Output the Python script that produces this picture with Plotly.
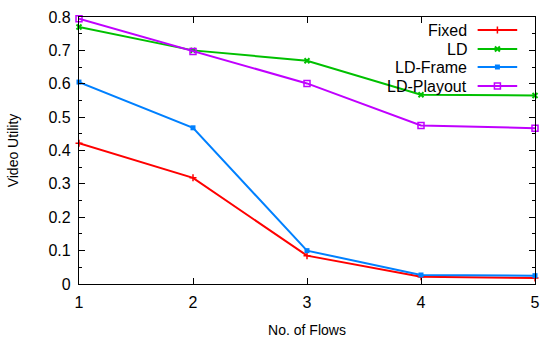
import plotly.graph_objects as go

flows = [1, 2, 3, 4, 5]
fixed = [0.422, 0.318, 0.085, 0.022, 0.018]
ld = [0.770, 0.700, 0.669, 0.567, 0.565]
ld_frame = [0.605, 0.468, 0.100, 0.027, 0.025]
ld_playout = [0.795, 0.697, 0.601, 0.475, 0.467]
y_ticks = [0, 0.1, 0.2, 0.3, 0.4, 0.5, 0.6, 0.7, 0.8]
y_ticktext = ["0", "0.1", "0.2", "0.3", "0.4", "0.5", "0.6", "0.7", "0.8"]

names = ["Fixed", "LD", "LD-Frame", "LD-Playout"]
series = [fixed, ld, ld_frame, ld_playout]
colors = ["#ff0000", "#00c000", "#0080ff", "#c000ff"]
symbols = ["cross-thin", "x-thin", "square", "square-open"]
sizes = [5, 5, 5, 6]
lws = [1.5, 2, 0, 1.5]

FONT = "Liberation Sans, Arial, sans-serif"
fig = go.Figure()
for n, s, c, sym, sz, lw in zip(names, series, colors, symbols, sizes, lws):
    fig.add_trace(go.Scatter(x=flows, y=s, mode="lines+markers", name=n,
                             line=dict(color=c, width=2),
                             marker=dict(symbol=sym, size=sz, color=c,
                                         line=dict(color=c, width=lw)),
                             showlegend=False, cliponaxis=False))

# custom legend (gnuplot style: text right, sample on the right) in page-pixel overlay axes
rows = [30, 49, 67, 86]
for i, (n, c, sym, sz, lw) in enumerate(zip(names, colors, symbols, sizes, lws)):
    y = rows[i]
    fig.add_trace(go.Scatter(x=[482, 502, 522], y=[y, y, y], xaxis="x2", yaxis="y2",
                             mode="lines", line=dict(color=c, width=2),
                             hoverinfo="skip", showlegend=False))
    fig.add_trace(go.Scatter(x=[502], y=[y], xaxis="x2", yaxis="y2", mode="markers",
                             marker=dict(symbol=sym, size=sz, color=c,
                                         line=dict(color=c, width=lw)),
                             hoverinfo="skip", showlegend=False))
    fig.add_annotation(x=473, y=y, xref="x2", yref="y2", text=n, showarrow=False,
                       xanchor="right", yanchor="middle",
                       font=dict(family=FONT, size=16, color="black"))

axis_common = dict(showline=True, linecolor="black", linewidth=1.2, mirror="allticks",
                   ticks="inside", ticklen=6, tickcolor="black", tickwidth=1,
                   showgrid=False, zeroline=False, ticklabelstandoff=4,
                   tickfont=dict(family=FONT, size=16, color="black"))
fig.update_layout(
    width=546, height=343,
    margin=dict(l=79, r=6, t=17, b=59),
    plot_bgcolor="white", paper_bgcolor="white",
    xaxis=dict(range=[1, 5], tickvals=flows, ticktext=[str(v) for v in flows],
               title=dict(text="No. of Flows", font=dict(family=FONT, size=14, color="black"), standoff=14),
               **axis_common),
    yaxis=dict(range=[0, 0.8], tickvals=y_ticks, ticktext=y_ticktext,
               title=dict(text="Video Utility", font=dict(family=FONT, size=14, color="black"), standoff=26),
               minor=dict(dtick=0.05, ticks="inside", ticklen=3, tickcolor="black"),
               **axis_common),
    xaxis2=dict(range=[79, 540], overlaying="x", visible=False, fixedrange=True),
    yaxis2=dict(range=[284, 17], overlaying="y", visible=False, fixedrange=True),
)
fig.write_html("out.html")
